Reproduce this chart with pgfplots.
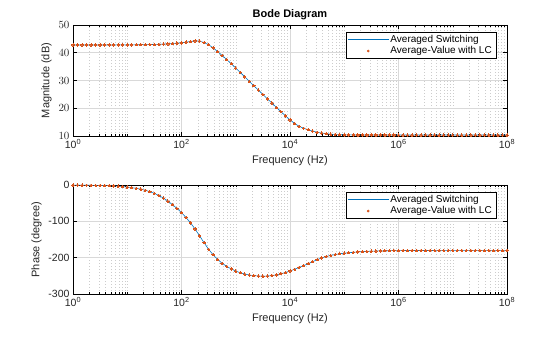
\documentclass[border=0pt]{standalone}
\usepackage{fontspec}
\setmainfont{Liberation Sans}
\usepackage{pgfplots}
\usepackage{pgfplotstable}
\pgfplotsset{compat=1.18}
\definecolor{matblue}{RGB}{0,114,189}
\definecolor{matorange}{RGB}{217,83,25}
\pgfplotstableread{
f mag ph
1e0 42.80 -0.3
1.2115e0 42.80 -0.4
1.4678e0 42.80 -0.5
1.7783e0 42.80 -0.6
2.1544e0 42.80 -0.8
2.6102e0 42.80 -1.0
3.1623e0 42.80 -1.3
3.8312e0 42.80 -1.6
4.6416e0 42.81 -2.0
5.6234e0 42.81 -2.6
6.8129e0 42.82 -3.3
8.2540e0 42.83 -4.3
1e1 42.84 -5.8
1.2115e1 42.85 -7.3
1.4678e1 42.87 -9.3
1.7783e1 42.89 -11.5
2.1544e1 42.92 -14.5
2.6102e1 42.95 -18.5
3.1623e1 42.99 -23.0
3.8312e1 43.04 -29.0
4.6416e1 43.11 -36.0
5.6234e1 43.20 -44.5
6.8129e1 43.32 -54.0
8.2540e1 43.45 -64.5
1e2 43.58 -76.0
1.2115e2 43.82 -89.5
1.4678e2 44.06 -104.5
1.7783e2 44.25 -121.0
2.1544e2 44.20 -140.0
2.6102e2 43.65 -159.0
3.1623e2 42.90 -177.0
3.8312e2 41.75 -192.0
4.6416e2 40.40 -205.0
5.6234e2 39.00 -215.5
6.8129e2 37.55 -224.0
8.2540e2 36.05 -231.0
1e3 34.50 -237.0
1.2115e3 32.90 -241.5
1.4678e3 31.30 -245.0
1.7783e3 29.70 -247.8
2.1544e3 28.10 -249.6
2.6102e3 26.55 -250.6
3.1623e3 25.00 -251.0
3.8312e3 23.40 -250.6
4.6416e3 21.85 -249.4
5.6234e3 20.30 -247.3
6.8129e3 18.75 -244.4
8.2540e3 17.25 -240.8
1e4 15.80 -236.6
1.2115e4 14.55 -232.0
1.4678e4 13.50 -227.0
1.7783e4 12.80 -222.0
2.1544e4 12.25 -216.8
2.6102e4 11.75 -211.2
3.1623e4 11.35 -205.8
3.8312e4 11.05 -200.6
4.6416e4 10.80 -196.9
5.6234e4 10.65 -193.8
6.8129e4 10.55 -191.3
8.2540e4 10.47 -189.3
1e5 10.42 -187.7
1.2115e5 10.39 -186.4
1.4678e5 10.37 -185.3
1.7783e5 10.36 -184.3
2.1544e5 10.36 -183.5
2.6102e5 10.36 -182.8
3.1623e5 10.36 -182.2
3.8312e5 10.36 -181.7
4.6416e5 10.36 -181.3
5.6234e5 10.36 -181.0
6.8129e5 10.36 -180.8
8.2540e5 10.36 -180.6
1e6 10.35 -180.5
1.2115e6 10.35 -180.4
1.4678e6 10.35 -180.35
1.7783e6 10.35 -180.3
2.1544e6 10.35 -180.25
2.6102e6 10.35 -180.2
3.1623e6 10.35 -180.2
3.8312e6 10.35 -180.15
4.6416e6 10.35 -180.15
5.6234e6 10.35 -180.1
6.8129e6 10.35 -180.1
8.2540e6 10.35 -180.1
1e7 10.35 -180.1
1.2115e7 10.35 -180.1
1.4678e7 10.35 -180.1
1.7783e7 10.35 -180.1
2.1544e7 10.35 -180.1
2.6102e7 10.35 -180.1
3.1623e7 10.35 -180.1
3.8312e7 10.35 -180.1
4.6416e7 10.35 -180.1
5.6234e7 10.35 -180.1
6.8129e7 10.35 -180.1
8.2540e7 10.35 -180.1
1e8 10.35 -180.1
}\bodedata
\def\minorlist{2e0,3e0,4e0,5e0,6e0,7e0,8e0,9e0,1e1,2e1,3e1,4e1,5e1,6e1,7e1,8e1,9e1,2e2,3e2,4e2,5e2,6e2,7e2,8e2,9e2,1e3,2e3,3e3,4e3,5e3,6e3,7e3,8e3,9e3,2e4,3e4,4e4,5e4,6e4,7e4,8e4,9e4,1e5,2e5,3e5,4e5,5e5,6e5,7e5,8e5,9e5,2e6,3e6,4e6,5e6,6e6,7e6,8e6,9e6,1e7,2e7,3e7,4e7,5e7,6e7,7e7,8e7,9e7}
\pgfplotsset{
  every axis/.append style={
    grid=both,
    major grid style={color=black!15, line width=0.5pt},
    minor grid style={color=black!20, dash pattern=on 1pt off 2pt, line width=0.5pt},
    tick style={black, line width=0.5pt},
    major tick length=4pt, minor tick length=2pt,
    axis line style={line width=0.6pt},
    tick label style={font=\fontsize{10.5}{12}\selectfont, color=black!85},
    label style={font=\fontsize{11}{13}\selectfont, color=black!85},
    legend cell align=left,
    legend style={at={(1,1)}, anchor=north east, xshift=-11pt, yshift=-6.7pt,
      font=\fontsize{10}{12}\selectfont,
      inner xsep=2pt, inner ysep=1pt, row sep=-1pt},
  },
}
\begin{document}
\begin{tikzpicture}
\path[use as bounding box] (0pt,0pt) rectangle (560pt,337pt);
\begin{axis}[anchor=south west, at={(73pt,201pt)},
  scale only axis, width=434pt, height=111pt,
  xmode=log, xmin=1, xmax=1e8,
  xtick={1,1e2,1e4,1e6,1e8},
  xticklabels={10\textsuperscript{0},10\textsuperscript{2},10\textsuperscript{4},10\textsuperscript{6},10\textsuperscript{8}},
  minor xtick/.expand once={\minorlist},
  xlabel={Frequency (Hz)},
  ymin=10, ymax=50, ytick={10,20,30,40,50},
  ylabel={Magnitude (dB)},
  title={Bode Diagram}, title style={font=\fontsize{11}{13}\selectfont\bfseries, yshift=-4.5pt}]
\addplot[matblue, line width=0.6pt, no markers,
  legend image code/.code={\fill[matblue] (0pt,-0.45pt) rectangle (40pt,0.45pt);}] table[x=f, y=mag] {\bodedata};
\addlegendentry{Averaged Switching}
\addplot[only marks, mark=*, mark size=1.2pt, mark options={fill=matorange, draw=matorange, line width=0pt},
  legend image code/.code={\fill[matorange] (20pt,0pt) circle (1.1pt);}] table[x=f, y=mag] {\bodedata};
\addlegendentry{Average-Value with LC}
\end{axis}
\begin{axis}[anchor=south west, at={(73pt,43pt)},
  scale only axis, width=434pt, height=109pt,
  xmode=log, xmin=1, xmax=1e8,
  xtick={1,1e2,1e4,1e6,1e8},
  xticklabels={10\textsuperscript{0},10\textsuperscript{2},10\textsuperscript{4},10\textsuperscript{6},10\textsuperscript{8}},
  minor xtick/.expand once={\minorlist},
  xlabel={Frequency (Hz)},
  ymin=-300, ymax=0, ytick={-300,-200,-100,0},
  yticklabels={-300,-200,-100,0},
  ylabel={Phase (degree)}]
\addplot[matblue, line width=0.6pt, no markers,
  legend image code/.code={\fill[matblue] (0pt,-0.45pt) rectangle (40pt,0.45pt);}] table[x=f, y=ph] {\bodedata};
\addlegendentry{Averaged Switching}
\addplot[only marks, mark=*, mark size=1.2pt, mark options={fill=matorange, draw=matorange, line width=0pt},
  legend image code/.code={\fill[matorange] (20pt,0pt) circle (1.1pt);}] table[x=f, y=ph] {\bodedata};
\addlegendentry{Average-Value with LC}
\end{axis}
\end{tikzpicture}
\end{document}
